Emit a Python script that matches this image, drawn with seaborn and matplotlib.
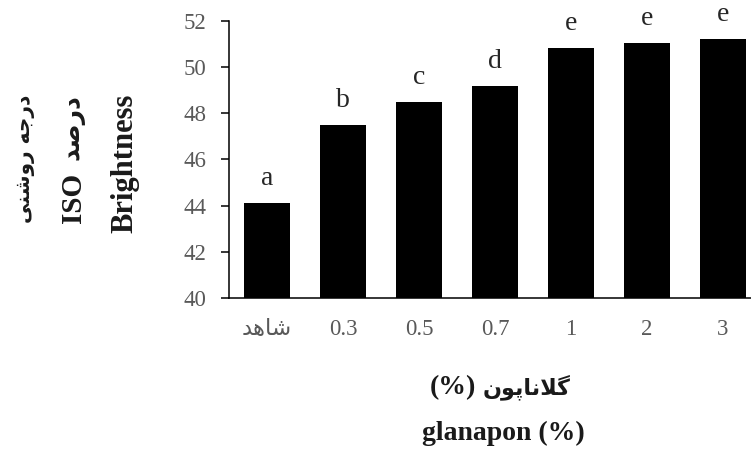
import matplotlib
matplotlib.use("Agg")
import matplotlib.pyplot as plt
import seaborn as sns
import pandas as pd

# ---- data ----
categories = ["شاهد", "0.3", "0.5", "0.7", "1", "2", "3"]
brightness = [44.13, 47.51, 48.48, 49.17, 50.83, 51.03, 51.21]
groups = ["a", "b", "c", "d", "e", "e", "e"]
y_ticks = [40, 42, 44, 46, 48, 50, 52]

ylabel_fa = "درجه روشنی"
ylabel_unit_fa = "درصد"
ylabel_unit = "ISO"
ylabel_en = "Brightness"
xlabel_pct = "(%)"
xlabel_fa = "گلاناپون"
xlabel_en = "glanapon (%)"

# ---- minimal Arabic-script shaping (contextual forms + right-to-left order) ----
FORMS = {  # isolated, final, initial, medial
    "ا": ("\uFE8D", "\uFE8E", None, None),
    "د": ("\uFEA9", "\uFEAA", None, None),
    "ر": ("\uFEAD", "\uFEAE", None, None),
    "و": ("\uFEED", "\uFEEE", None, None),
    "ج": ("\uFE9D", "\uFE9E", "\uFE9F", "\uFEA0"),
    "ه": ("\uFEE9", "\uFEEA", "\uFEEB", "\uFEEC"),
    "ش": ("\uFEB5", "\uFEB6", "\uFEB7", "\uFEB8"),
    "ن": ("\uFEE5", "\uFEE6", "\uFEE7", "\uFEE8"),
    "ی": ("\uFBFC", "\uFBFD", "\uFBFE", "\uFBFF"),
    "ص": ("\uFEB9", "\uFEBA", "\uFEBB", "\uFEBC"),
    "گ": ("\uFB92", "\uFB93", "\uFB94", "\uFB95"),
    "ل": ("\uFEDD", "\uFEDE", "\uFEDF", "\uFEE0"),
    "پ": ("\uFB56", "\uFB57", "\uFB58", "\uFB59"),
}
LAM_ALEF = ("\uFEFB", "\uFEFC", None, None)


def shape_word(word):
    if not any(ch in FORMS for ch in word):
        return word
    toks, i = [], 0
    while i < len(word):
        if word[i] == "ل" and i + 1 < len(word) and word[i + 1] == "ا":
            toks.append("لا")
            i += 2
        else:
            toks.append(word[i])
            i += 1

    def forms_of(t):
        return LAM_ALEF if t == "لا" else FORMS.get(t)

    out = []
    for k, t in enumerate(toks):
        f = forms_of(t)
        if f is None:
            out.append(t)
            continue
        prev = forms_of(toks[k - 1]) if k > 0 else None
        nxt = forms_of(toks[k + 1]) if k + 1 < len(toks) else None
        join_prev = prev is not None and prev[2] is not None
        join_next = f[2] is not None and nxt is not None
        if join_prev and join_next:
            out.append(f[3])
        elif join_prev:
            out.append(f[1])
        elif join_next:
            out.append(f[2])
        else:
            out.append(f[0])
    return "".join(reversed(out))


def rtl(text):
    return " ".join(shape_word(w) for w in reversed(text.split(" ")))


# ---- style ----
sns.set_theme(style="white")
plt.rcParams["font.family"] = ["Liberation Serif", "DejaVu Sans"]
plt.rcParams["axes.unicode_minus"] = False

df = pd.DataFrame({"treatment": [rtl(c) for c in categories], "brightness": brightness})

W, H = 751, 450
fig = plt.figure(figsize=(W / 100, H / 100), dpi=100)
ax = fig.add_axes([0.3049, 0.3378, 0.7084, 0.6156])

sns.barplot(data=df, x="treatment", y="brightness", color="black",
            saturation=1, width=0.61, edgecolor="none", ax=ax)

ax.set_ylim(40, 52)
ax.set_xlim(-0.5, 6.5)
ax.set_yticks(y_ticks)
ax.set_xlabel("")
ax.set_ylabel("")
for s in ("top", "right"):
    ax.spines[s].set_visible(False)
for s in ("left", "bottom"):
    ax.spines[s].set_color("black")
    ax.spines[s].set_linewidth(1.1)
ax.tick_params(axis="y", direction="out", length=6, width=1.1, color="black",
               pad=10, labelsize=16.5, labelcolor="#595959", left=True)
ax.tick_params(axis="x", length=0, pad=15, labelsize=16.5, labelcolor="#595959")

# significance letters above bars
for i, (v, g) in enumerate(zip(brightness, groups)):
    ax.annotate(g, xy=(i, v), xytext=(0, 13), textcoords="offset points",
                ha="center", va="baseline", fontsize=20, color="#262626",
                annotation_clip=False)

dark = "#1a1a1a"

# stacked, rotated y-axis titles
fig.text(26 / W, 1 - 159 / H, rtl(ylabel_fa), rotation=90, ha="center",
         va="center", fontsize=14.5, fontweight="bold", color=dark,
         family=["DejaVu Sans"])
fig.text(73 / W, 1 - 127 / H, rtl(ylabel_unit_fa), rotation=90, ha="center",
         va="center", fontsize=18, fontweight="bold", color=dark,
         family=["DejaVu Sans"])
fig.text(73 / W, 1 - 198 / H, ylabel_unit, rotation=90, ha="center",
         va="center", fontsize=21, fontweight="bold", color=dark)
fig.text(125 / W, 1 - 163 / H, ylabel_en, rotation=90, ha="center",
         va="center", fontsize=22, fontweight="bold", color=dark)

# x-axis titles
fig.text(430 / W, 1 - 394 / H, xlabel_pct, ha="left", va="baseline",
         fontsize=20, fontweight="bold", color=dark)
fig.text(571 / W, 1 - 394 / H, rtl(xlabel_fa), ha="right", va="baseline",
         fontsize=16, fontweight="bold", color=dark, family=["DejaVu Sans"])
fig.text(503 / W, 1 - 440 / H, xlabel_en, ha="center", va="baseline",
         fontsize=20, fontweight="bold", color=dark)

fig.savefig("out.png", dpi=100)
